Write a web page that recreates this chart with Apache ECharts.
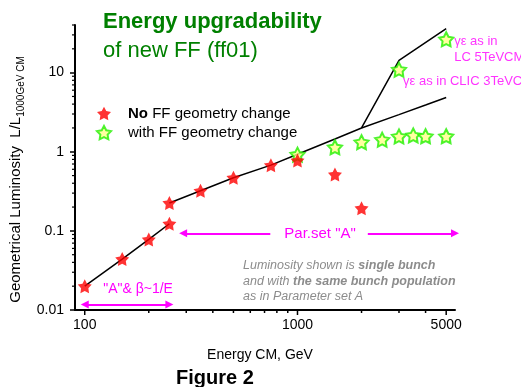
<!DOCTYPE html>
<html><head><meta charset="utf-8">
<script src="https://cdn.jsdelivr.net/npm/echarts@6/dist/echarts.min.js"></script>
<style>html,body{margin:0;padding:0;background:#fff}#c{width:521px;height:387px}</style>
</head><body><div id="c"></div>
<script>
const FONT = '"Liberation Sans", Arial, Helvetica, sans-serif';
const X_MIN = 90, X_MAX = 5500, Y_MIN = 0.01, Y_MAX = 40;

// "No FF geometry change" (red stars)
const redE = [100, 150, 200, 250, 250, 350, 500, 750, 1000, 1500, 2000];
const redL = [0.02, 0.044, 0.078, 0.123, 0.225, 0.321, 0.469, 0.677, 0.776, 0.516, 0.193];
// "with FF geometry change" (green stars)
const greenE = [1000, 1500, 2000, 2500, 3000, 3500, 4000, 5000, 3000, 5000];
const greenL = [0.92, 1.14, 1.32, 1.42, 1.56, 1.61, 1.57, 1.57, 10.9, 26.4];
const greenNotes = ['', '', '', '', '', '', '', '', 'γε as in CLIC 3TeVCM', 'γε as in\nLC 5TeVCM'];
// black lines
const lineAE = [100, 150, 200, 250];
const lineAL = [0.02, 0.044, 0.078, 0.123];
const lineBE = [250, 350, 500, 750, 1000, 1500, 2000, 3000, 4000, 5000];
const lineBL = [0.225, 0.321, 0.469, 0.677, 0.93, 1.45, 2.0, 2.95, 3.9, 4.85];
const lineCE = [2000, 3000, 5000];
const lineCL = [2.0, 14.3, 36.1];
// axis ticks
const xMajorTicks = [100, 1000, 5000];
const xTickLabels = ['100', '1000', '5000'];
const xMinorTicks = [200, 300, 400, 500, 600, 700, 800, 900, 2000, 3000, 4000];
const yMinorTicks = [0.02, 0.03, 0.04, 0.05, 0.06, 0.07, 0.08, 0.09, 0.2, 0.3, 0.4, 0.5, 0.6, 0.7, 0.8, 0.9,
                     2, 3, 4, 5, 6, 7, 8, 9, 20, 30, 40];
// annotation arrows
const betaArrowE = [100, 250];
const betaArrowL = 0.0117;
const betaArrowText = '"A"& β~1/E';
const parArrowE = [290, 5500];
const parArrowL = 0.093;
const parArrowText = 'Par.set "A"';

const STAR = 'path://M50,0L65.3,29L97.6,34.5L74.7,58L79.4,90.5L50,76L20.6,90.5L25.3,58L2.4,34.5L34.7,29Z';
const MAGENTA = '#ff00ff';

const notePos = {8: [12, 12], 9: [16, 2]};

const xTickItems = xMajorTicks.map((v, i) => ({v, major: true, label: xTickLabels[i]}))
  .concat(xMinorTicks.map(v => ({v, major: false})));

const chart = echarts.init(document.getElementById('c'), null, {renderer: 'canvas'});
chart.setOption({
  animation: false,
  backgroundColor: '#fff',
  title: [
    {text: '{a|Energy upgradability}\n{b|of new FF (ff01)}', left: 103, top: 7, padding: 0,
     textStyle: {fontWeight: 'normal', rich: {
       a: {fontSize: 22, fontWeight: 'bold', color: '#008000', lineHeight: 29, fontFamily: FONT},
       b: {fontSize: 22, fontWeight: 'normal', color: '#008000', lineHeight: 29, fontFamily: FONT}}}},
    {text: 'Figure 2', left: 176, top: 368, padding: 0,
     textStyle: {fontSize: 20, fontWeight: 'bold', color: '#000', lineHeight: 20, fontFamily: FONT}},
    {text: '{i|Luminosity shown is }{ib|single bunch}\n{i|and with }{ib|the same bunch population}\n{i|as in Parameter set A}',
     left: 243, top: 258, padding: 0,
     textStyle: {fontWeight: 'normal', rich: {
       i: {fontSize: 12.5, fontStyle: 'italic', fontWeight: 'normal', color: '#8c8c8c', lineHeight: 15.5, fontFamily: FONT},
       ib: {fontSize: 12.5, fontStyle: 'italic', fontWeight: 'bold', color: '#8c8c8c', lineHeight: 15.5, fontFamily: FONT}}}}
  ],
  legend: {
    data: ['No FF geometry change', 'with FF geometry change'],
    orient: 'vertical', left: 96, top: 106, padding: 0,
    itemWidth: 14, itemHeight: 14, itemGap: 4, selectedMode: false,
    formatter: name => name.indexOf('No') === 0 ? '{b|No}{n| FF geometry change}' : '{n|' + name + '}',
    textStyle: {fontSize: 15, color: '#000', fontFamily: FONT, padding: [0, 0, 0, 12],
      rich: {b: {fontSize: 15, fontWeight: 'bold', color: '#000', fontFamily: FONT},
             n: {fontSize: 15, color: '#000', fontFamily: FONT}}}
  },
  grid: {left: 75, right: 66, top: 25, bottom: 77, containLabel: false, outerBoundsMode: 'none'},
  xAxis: {
    type: 'log', logBase: 10, min: X_MIN, max: X_MAX,
    name: 'Energy CM, GeV', nameLocation: 'middle', nameGap: 38,
    nameTextStyle: {fontSize: 14, color: '#000', fontFamily: FONT, padding: [0, 10, 0, 0]},
    axisLine: {show: true, onZero: false, lineStyle: {color: '#000', width: 2}},
    axisTick: {show: false}, axisLabel: {show: false}, splitLine: {show: false}, minorTick: {show: false}
  },
  yAxis: {
    type: 'log', logBase: 10, min: Y_MIN, max: Y_MAX,
    name: '{m|Geometrical Luminosity  L/L}{s|1000GeV CM}', nameLocation: 'middle', nameRotate: 90, nameGap: 40,
    nameTextStyle: {padding: [0, 24, 0, 0], rich: {
      m: {fontSize: 15, lineHeight: 20, color: '#000', fontFamily: FONT},
      s: {fontSize: 10, lineHeight: 8, verticalAlign: 'bottom', color: '#000', fontFamily: FONT}}},
    axisLine: {show: true, onZero: false, lineStyle: {color: '#000', width: 2}},
    axisTick: {show: true, length: 5, lineStyle: {color: '#000', width: 1.5}},
    axisLabel: {fontSize: 14, color: '#000', fontFamily: FONT, margin: 11, showMaxLabel: false},
    splitLine: {show: false}
  },
  series: [
    {type: 'line', name: 'lineA', data: lineAE.map((e, i) => [e, lineAL[i]]), showSymbol: false, symbol: 'none',
     lineStyle: {color: '#000', width: 1.5}, clip: false, silent: true, z: 2,
     markLine: {silent: true, symbol: ['triangle', 'triangle'], symbolSize: 8, animation: false,
       lineStyle: {color: MAGENTA, width: 2, type: 'solid'},
       emphasis: {disabled: true},
       data: [
         [{coord: [betaArrowE[0], betaArrowL],
           label: {show: true, formatter: betaArrowText, position: 'insideMiddleTop', distance: 8,
                   color: MAGENTA, fontSize: 14, fontFamily: FONT, padding: [0, 0, 0, 22]}},
          {coord: [betaArrowE[1], betaArrowL]}],
         [{coord: [parArrowE[0], parArrowL],
           label: {show: true, formatter: parArrowText, position: 'middle', distance: 0, verticalAlign: 'middle',
                   color: MAGENTA, fontSize: 15, fontFamily: FONT, backgroundColor: '#fff', padding: [0, 12, 0, 14]}},
          {coord: [parArrowE[1], parArrowL]}]
       ]}},
    {type: 'line', name: 'lineB', data: lineBE.map((e, i) => [e, lineBL[i]]), showSymbol: false, symbol: 'none',
     lineStyle: {color: '#000', width: 1.5}, silent: true, z: 2},
    {type: 'line', name: 'lineC', data: lineCE.map((e, i) => [e, lineCL[i]]), showSymbol: false, symbol: 'none',
     lineStyle: {color: '#000', width: 1.5}, silent: true, z: 2},
    {type: 'scatter', name: 'with FF geometry change', symbol: STAR, symbolSize: 14, z: 3, clip: false,
     itemStyle: {color: '#ffff88', borderColor: '#22f000', borderWidth: 2},
     data: greenE.map((e, i) => {
       const item = {value: [e, greenL[i]]};
       if (greenNotes[i]) item.label = {show: true, formatter: greenNotes[i], position: notePos[i],
         color: MAGENTA, fontSize: 13, lineHeight: 16, fontFamily: FONT};
       return item;
     })},
    {type: 'scatter', name: 'No FF geometry change', symbol: STAR, symbolSize: 14, z: 4, clip: false,
     itemStyle: {color: '#ff0000'},
     data: redE.map((e, i) => [e, redL[i]])},
    {type: 'custom', name: 'xTicks', silent: true, clip: false, z: 5,
     data: xTickItems.map(t => [t.v, Y_MIN]),
     renderItem: (params, api) => {
       const t = xTickItems[params.dataIndex];
       const p = api.coord([t.v, Y_MIN]);
       const len = t.major ? 5 : 3;
       const children = [{type: 'line', shape: {x1: p[0], y1: p[1], x2: p[0], y2: p[1] + len},
                          style: {stroke: '#000', lineWidth: 1.5}}];
       if (t.label) children.push({type: 'text', x: p[0], y: p[1] + 8,
         style: {text: t.label, align: 'center', verticalAlign: 'top', fontSize: 14, fontFamily: FONT, fill: '#000'}});
       return {type: 'group', children};
     }},
    {type: 'custom', name: 'yTicks', silent: true, clip: false, z: 5,
     data: yMinorTicks.map(v => [X_MIN, v]),
     renderItem: (params, api) => {
       const p = api.coord([X_MIN, yMinorTicks[params.dataIndex]]);
       return {type: 'line', shape: {x1: p[0], y1: p[1], x2: p[0] - 3, y2: p[1]},
               style: {stroke: '#000', lineWidth: 1.2}};
     }}
  ]
});
</script></body></html>
